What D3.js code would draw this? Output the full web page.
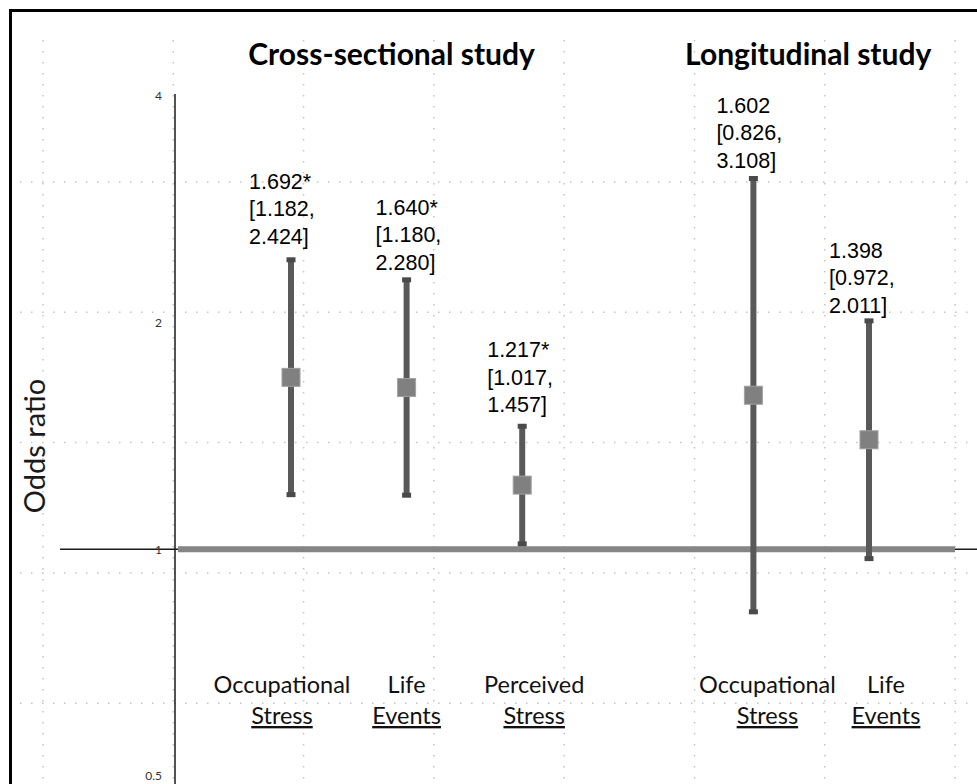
<!DOCTYPE html>
<html>
<head>
<meta charset="utf-8">
<script src="https://cdn.jsdelivr.net/npm/d3@7"></script>
<style>
  html, body { margin: 0; padding: 0; background: #fff; }
  svg { display: block; }
</style>
</head>
<body>
<svg id="chart" width="977" height="784"></svg>
<script>
// ---------------- data ----------------
const keys = ["CS-Occupational", "CS-Life", "CS-Perceived", "LG-Occupational", "LG-Life"];
const studyOf = ["Cross-sectional study", "Cross-sectional study", "Cross-sectional study", "Longitudinal study", "Longitudinal study"];
const catLine1 = ["Occupational", "Life", "Perceived", "Occupational", "Life"];
const catLine2 = ["Stress", "Events", "Stress", "Stress", "Events"];
const oddsRatio = [1.692, 1.640, 1.217, 1.602, 1.398];
const ciLow = [1.182, 1.180, 1.017, 0.826, 0.972];
const ciHigh = [2.424, 2.280, 1.457, 3.108, 2.011];
const significant = [true, true, true, false, false];
const studyTitles = ["Cross-sectional study", "Longitudinal study"];
const yTicks = [0.5, 1, 2, 4];
const yTickLabels = ["0.5", "1", "2", "4"];
const yTitle = "Odds ratio";

// ---------------- layout (not data) ----------------
const W = 977, H = 784;
const annotDx = [-42, -31, -35, -37, -40];     // label start relative to bar
const annotGap = [16, 10, 14, 11, 8];           // gap between last label line and cap
const catDx = [-9, 0, 12, 14, 17];              // category label nudges
const titleDx = [-15, -3];
const sans = "Lato, 'Open Sans', sans-serif";

const svg = d3.select("#chart");
svg.append("rect").attr("width", W).attr("height", H).attr("fill", "#fff");

// slide-style dotted grid
const grid = svg.append("g").attr("stroke", "#c4c4c4").attr("stroke-width", 1.5)
  .attr("stroke-dasharray", "1.5,9.5").attr("fill", "none");
d3.range(8).forEach(k => {
  const gx = 43 + 130.3 * k;
  grid.append("line").attr("x1", gx).attr("x2", gx).attr("y1", 40).attr("y2", H);
});
d3.range(5).forEach(k => {
  const gy = 182 + 130.3 * k;
  grid.append("line").attr("x1", 20).attr("x2", W).attr("y1", gy).attr("y2", gy);
});

// frame
svg.append("rect").attr("x", 10.5).attr("y", 10.5).attr("width", W + 20).attr("height", H + 20)
  .attr("fill", "none").attr("stroke", "#000").attr("stroke-width", 3);

// scales
const domain = [...keys.slice(0, 3), "gap", ...keys.slice(3)];
const x = d3.scalePoint().domain(domain).range([291, 869]);
const y = d3.scaleLog().base(2).domain([0.5, 4]).range([776, 96]);

// baseline at OR = 1 (thin black)
svg.append("line").attr("x1", 60).attr("x2", W).attr("y1", y(1)).attr("y2", y(1))
  .attr("stroke", "#1a1a1a").attr("stroke-width", 1.5);

// y axis
const yAxis = d3.axisLeft(y).tickValues(yTicks).tickFormat((d, i) => yTickLabels[i])
  .tickSize(0).tickPadding(13);
const ax = svg.append("g").attr("transform", "translate(175,0)").call(yAxis);
ax.select(".domain").attr("d", "M0," + (y(4) - 2) + "V" + H).attr("stroke", "#1a1a1a").attr("stroke-width", 1.5);
ax.selectAll(".tick text").attr("font-family", sans).attr("font-size", 12)
  .attr("fill", "#333");

// reference line (thick gray) at OR = 1
svg.append("line").attr("x1", 178).attr("x2", 955).attr("y1", y(1)).attr("y2", y(1))
  .attr("stroke", "#858585").attr("stroke-width", 6);

// y title
svg.append("text").attr("transform", "translate(45,446) rotate(-90)")
  .attr("text-anchor", "middle").attr("font-family", sans)
  .attr("font-size", 29).attr("fill", "#1a1a1a").text(yTitle);

// study titles
studyTitles.forEach((t, i) => {
  const xs = keys.filter((k, j) => studyOf[j] === t).map(k => x(k));
  svg.append("text").attr("x", d3.mean(xs) + titleDx[i]).attr("y", 65)
    .attr("text-anchor", "middle").attr("font-family", sans)
    .attr("font-weight", "bold").attr("font-size", 30).attr("fill", "#000").text(t);
});

// error bars + markers
const g = svg.append("g");
const fmt = d3.format(".3f");
keys.forEach((k, i) => {
  const cx = x(k);
  g.append("line").attr("x1", cx).attr("x2", cx).attr("y1", y(ciHigh[i])).attr("y2", y(ciLow[i]))
    .attr("stroke", "#595959").attr("stroke-width", 6);
  [ciHigh[i], ciLow[i]].forEach(v => {
    g.append("rect").attr("x", cx - 4.5).attr("y", y(v) - 2.5).attr("width", 9).attr("height", 5)
      .attr("fill", "#4a4a4a");
  });
  g.append("rect").attr("x", cx - 9).attr("y", y(oddsRatio[i]) - 9).attr("width", 18).attr("height", 18)
    .attr("fill", "#808080").attr("stroke", "#a0a0a0").attr("stroke-width", 1);

  // annotation
  const lines = [fmt(oddsRatio[i]) + (significant[i] ? "*" : ""), "[" + fmt(ciLow[i]) + ",", fmt(ciHigh[i]) + "]"];
  const lastBase = y(ciHigh[i]) - annotGap[i];
  const lh = 27.5;
  lines.forEach((s, j) => {
    svg.append("text").attr("x", cx + annotDx[i]).attr("y", lastBase - (2 - j) * lh)
      .attr("font-family", "'Liberation Sans', Arial, sans-serif").attr("font-size", 21.5)
      .attr("fill", "#000").text(s);
  });

  // category labels
  svg.append("text").attr("x", cx + catDx[i]).attr("y", 693).attr("text-anchor", "middle")
    .attr("font-family", sans).attr("font-size", 23.5).attr("fill", "#111")
    .text(catLine1[i]);
  svg.append("text").attr("x", cx + catDx[i]).attr("y", 724).attr("text-anchor", "middle")
    .attr("font-family", sans).attr("font-size", 23.5).attr("fill", "#111")
    .style("text-decoration", "underline").text(catLine2[i]);
});
</script>
</body>
</html>
